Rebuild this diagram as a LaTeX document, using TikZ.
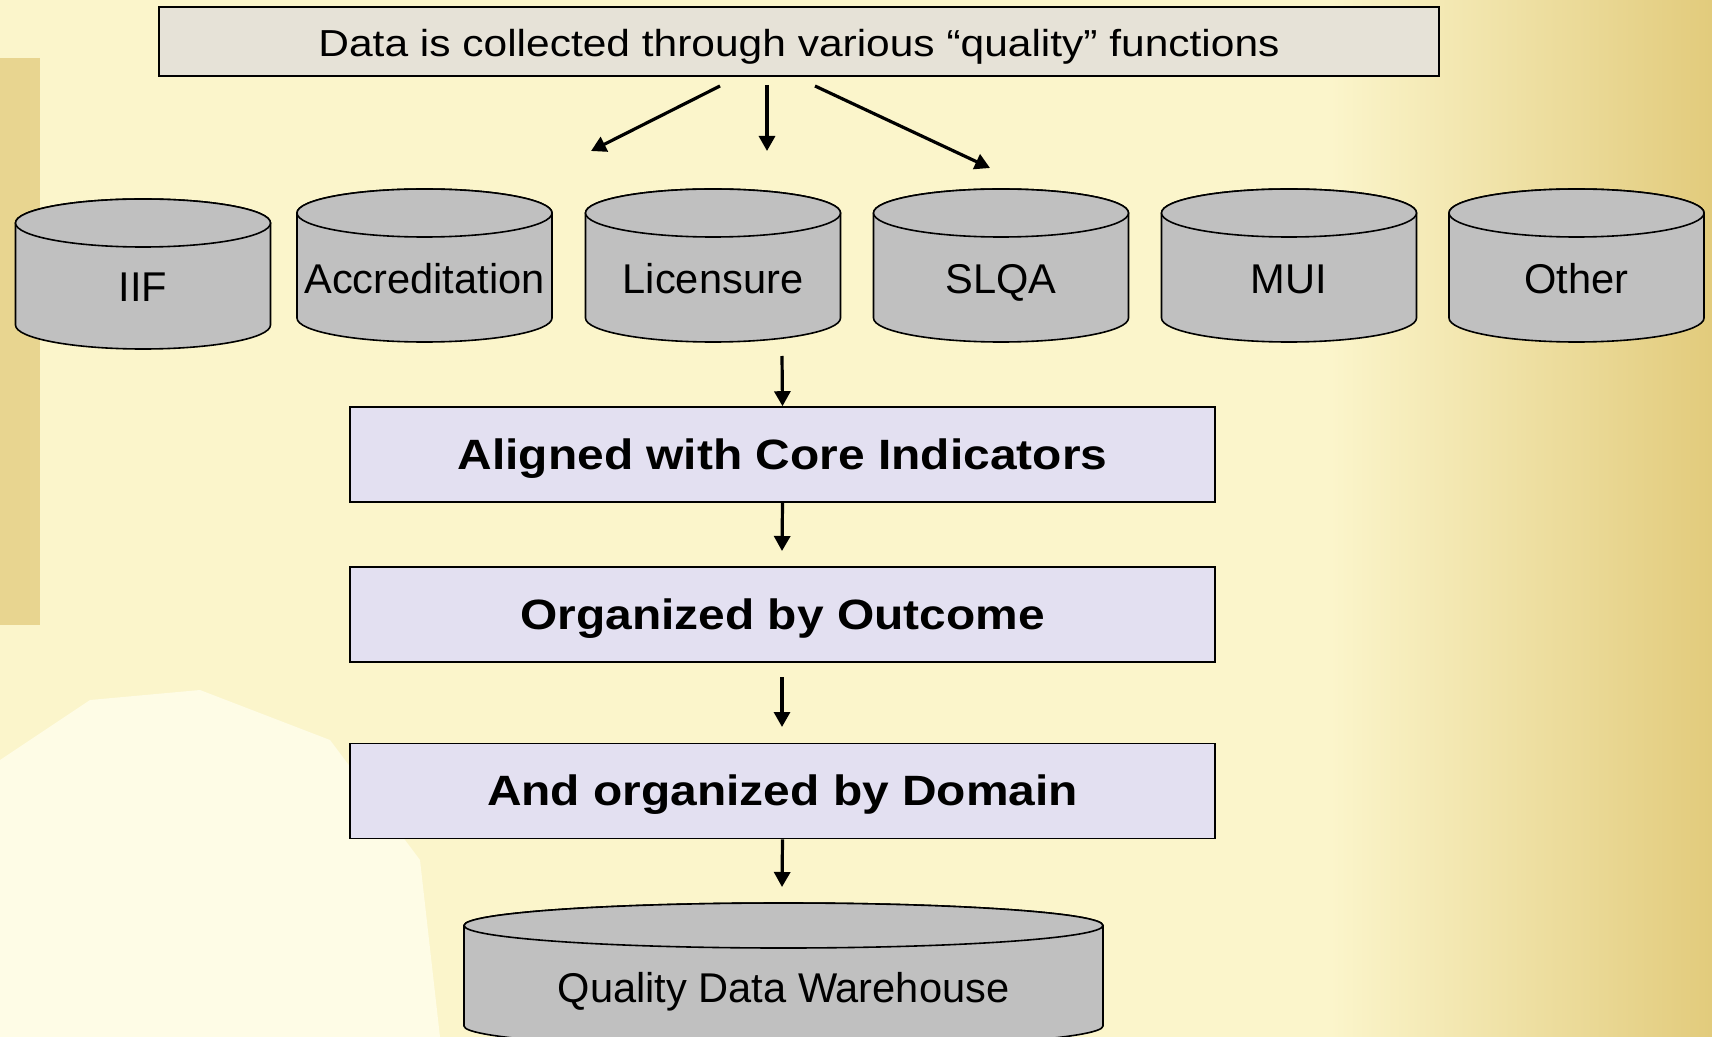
\documentclass[tikz,border=0pt]{standalone}
\usepackage{fontspec}
\setmainfont{Liberation Sans}
\newfontfamily\widesans[FakeStretch=1.13]{Liberation Sans}
\usepackage{xcolor}
\usepackage{tikz}
\usetikzlibrary{arrows.meta}
\definecolor{bgyellow}{HTML}{FBF5CB}
\definecolor{bglight}{HTML}{FEFCE6}
\definecolor{bggold}{HTML}{E2CB7C}
\definecolor{topfill}{HTML}{E6E2D7}
\definecolor{stagefill}{HTML}{E3E0F1}
\definecolor{dbgray}{HTML}{C0C0C0}

\begin{document}
\begin{tikzpicture}[x=0.5pt,y=0.5pt]
        \tikzstyle{stage} = [draw, fill=stagefill, line width=0.8pt, minimum width=432.5pt, minimum height=47.5pt,
            inner sep=0pt, text height=14.5pt, text depth=0pt, font=\widesans\fontsize{21.2}{25}\selectfont\bfseries]
        \tikzstyle{cyl} = [draw=black, fill=dbgray, line width=0.8pt]
        \tikzstyle{flow} = [-{Triangle[length=7.5pt,width=8pt]}, line width=1.6pt]
        \tikzstyle{dblabel} = [anchor=base, inner sep=0pt, font=\fontsize{20.8}{25}\selectfont]
        \useasboundingbox (0,0) rectangle (1712,-1037);
        \clip (0,0) rectangle (1712,-1037);
        % background
        \fill[bgyellow] (0,0) rectangle (1712,-1037);
        \shade[left color=bgyellow, right color=bggold] (1330,0) rectangle (1712,-1037);
        \fill[bggold!75!bgyellow] (0,-58) rectangle (40,-625);
        \fill[bglight] (0,-760) -- (90,-700) -- (200,-690) -- (330,-740) -- (420,-860) -- (440,-1037) -- (0,-1037) -- cycle;
        % top box
        \node[draw, fill=topfill, line width=0.8pt, minimum width=640pt, minimum height=34.5pt, inner sep=0pt,
              text height=15.5pt, text depth=0pt, font=\widesans\fontsize{18.8}{23}\selectfont]
              (collect) at (799,-41.5) {Data is collected through various “quality” functions};
        % sources
        \foreach \name/\x/\yt/\yb/\ty/\txt in {iif/143/199/349/302/IIF, accr/424.5/189/342/294/Accreditation,
            lic/713/189/342/294/Licensure, slqa/1001/189/342/294/SLQA, mui/1289/189/342/294/MUI,
            other/1576.5/189/342/294/Other}
        {
            \filldraw[cyl] (\x-127.5,-\yt-24) -- (\x-127.5,-\yb+24) arc (180:360:127.5 and 24)
                -- (\x+127.5,-\yt-24) arc (0:180:127.5 and 24) -- cycle;
            \draw[cyl] (\x,-\yt-24) ellipse (127.5 and 24);
            \node[dblabel] (\name) at (\x,-\ty) {\txt};
        }
        % stages
        \node[stage] (align) at (782.5,-454.5) {Aligned with Core Indicators};
        \node[stage] (outcome) at (782.5,-614.5) {Organized by Outcome};
        \node[stage] (domain) at (782.5,-791) {And organized by Domain};
        % warehouse
        \filldraw[cyl] (464,-925.5) -- (464,-1026) arc (180:360:319.5 and 22.5) -- (1103,-925.5)
            arc (0:180:319.5 and 22.5) -- cycle;
        \draw[cyl] (783.5,-925.5) ellipse (319.5 and 22.5);
        \node[dblabel] (dwh) at (783.5,-1002) {Quality Data Warehouse};
        % connectors
        \coordinate (outL) at (720,-86);
        \coordinate (inL) at (591,-151);
        \coordinate (outM) at (767,-85);
        \coordinate (inM) at (767,-151);
        \coordinate (outR) at (815,-86);
        \coordinate (inR) at (990,-168);
        \coordinate (licout) at (782,-356);
        \coordinate (inoutcome) at (782,-551);
        \coordinate (outoutcome) at (782,-677);
        \coordinate (indomain) at (782,-727);
        \coordinate (indwh) at (782,-887);
        \foreach \from/\to in {outL/inL, outM/inM, outR/inR, licout/align.north, align.south/inoutcome,
            outoutcome/indomain, domain.south/indwh}
            \draw[flow] (\from) -- (\to);
\end{tikzpicture}
\end{document}
